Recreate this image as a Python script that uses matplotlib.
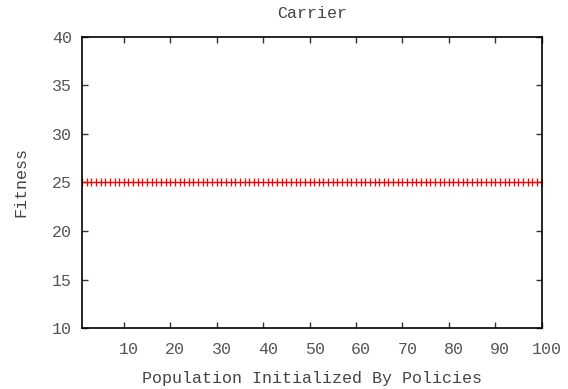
import matplotlib

matplotlib.use("Agg")
import matplotlib.pyplot as plt
import matplotlib.transforms as mtransforms

# Population index 1..100, fitness flat at 25
population = list(range(1, 101))
fitness = [
    25, 25, 25, 25, 25, 25, 25, 25, 25, 25,
    25, 25, 25, 25, 25, 25, 25, 25, 25, 25,
    25, 25, 25, 25, 25, 25, 25, 25, 25, 25,
    25, 25, 25, 25, 25, 25, 25, 25, 25, 25,
    25, 25, 25, 25, 25, 25, 25, 25, 25, 25,
    25, 25, 25, 25, 25, 25, 25, 25, 25, 25,
    25, 25, 25, 25, 25, 25, 25, 25, 25, 25,
    25, 25, 25, 25, 25, 25, 25, 25, 25, 25,
    25, 25, 25, 25, 25, 25, 25, 25, 25, 25,
    25, 25, 25, 25, 25, 25, 25, 25, 25, 25,
]
x_ticks = [10, 20, 30, 40, 50, 60, 70, 80, 90, 100]
y_ticks = [10, 15, 20, 25, 30, 35, 40]

plt.rcParams["font.family"] = ["Liberation Mono", "DejaVu Sans Mono"]
plt.rcParams["font.size"] = 12

fig = plt.figure(figsize=(5.68, 3.89), dpi=100)
ax = fig.add_axes([0.1444, 0.1568, 0.8093, 0.7481])

ax.plot(population, fitness, linestyle="none", marker="+", markersize=5.5,
        markeredgewidth=0.9, color="#ff0000")

ax.set_xlim(1, 100)
ax.set_ylim(10, 40)
ax.set_xticks(x_ticks)
ax.set_yticks(y_ticks)
ax.tick_params(direction="in", length=4, width=1, top=True, right=True,
               labelsize=12, colors="#333333", labelcolor="#555555")
ax.tick_params(axis="x", pad=10)
ax.tick_params(axis="y", pad=7)
for s in ax.spines.values():
    s.set_linewidth(1.2)
    s.set_color("black")

# gnuplot puts x tick labels a few pixels right of the tick
shift = mtransforms.ScaledTranslation(5 / 100, 0, fig.dpi_scale_trans)
for lab in ax.get_xticklabels():
    lab.set_transform(lab.get_transform() + shift)

ax.set_title("Carrier", fontsize=12, color="#444444", pad=14)
ax.set_xlabel("Population Initialized By Policies", fontsize=12, color="#444444", labelpad=10)
ax.set_ylabel("Fitness", fontsize=12, color="#444444", labelpad=17)

fig.savefig("out.png", dpi=100)
